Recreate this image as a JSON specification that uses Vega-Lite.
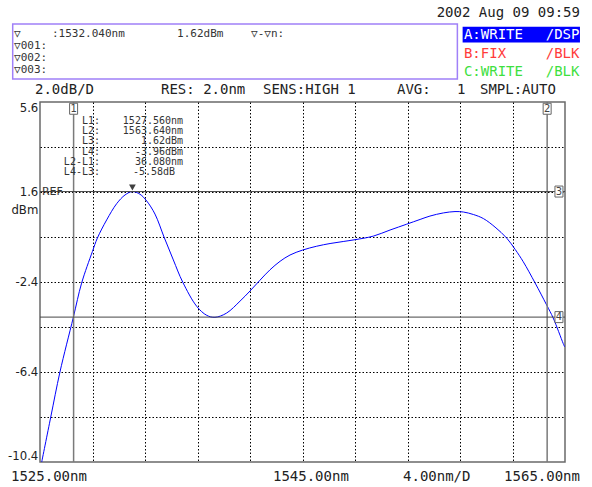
{
  "$schema": "https://vega.github.io/schema/vega-lite/v6.json",
  "width": 525,
  "height": 360,
  "autosize": {"type": "none"},
  "padding": {"left": 40, "top": 102, "right": 27, "bottom": 25},
  "background": "white",
  "config": {"view": {"stroke": "#6a6a6a", "strokeWidth": 1.5}},
  "datasets": {
    "curve": [
      {"x": 1525.13, "y": -10.4},
      {"x": 1525.82, "y": -8.4},
      {"x": 1526.52, "y": -6.4},
      {"x": 1527.54, "y": -3.97},
      {"x": 1528.17, "y": -2.45},
      {"x": 1528.99, "y": -1.05},
      {"x": 1529.37, "y": -0.45},
      {"x": 1530.08, "y": 0.36},
      {"x": 1530.84, "y": 1.08},
      {"x": 1531.48, "y": 1.47},
      {"x": 1532.04, "y": 1.62},
      {"x": 1532.62, "y": 1.5},
      {"x": 1533.13, "y": 1.2},
      {"x": 1533.76, "y": 0.62},
      {"x": 1534.45, "y": -0.4},
      {"x": 1535.16, "y": -1.42},
      {"x": 1535.87, "y": -2.4},
      {"x": 1536.94, "y": -3.48},
      {"x": 1537.7, "y": -3.88},
      {"x": 1538.33, "y": -3.97},
      {"x": 1539.22, "y": -3.78},
      {"x": 1540.24, "y": -3.25},
      {"x": 1541.0, "y": -2.8},
      {"x": 1541.76, "y": -2.32},
      {"x": 1542.52, "y": -1.86},
      {"x": 1543.29, "y": -1.48},
      {"x": 1544.05, "y": -1.2},
      {"x": 1545.01, "y": -0.98},
      {"x": 1546.08, "y": -0.81},
      {"x": 1547.1, "y": -0.69},
      {"x": 1548.1, "y": -0.6},
      {"x": 1549.0, "y": -0.52},
      {"x": 1550.4, "y": -0.36},
      {"x": 1551.67, "y": -0.09},
      {"x": 1552.94, "y": 0.17},
      {"x": 1553.96, "y": 0.38},
      {"x": 1554.71, "y": 0.53},
      {"x": 1555.73, "y": 0.67},
      {"x": 1556.62, "y": 0.73},
      {"x": 1557.26, "y": 0.71},
      {"x": 1558.02, "y": 0.6},
      {"x": 1558.78, "y": 0.42},
      {"x": 1559.67, "y": 0.04},
      {"x": 1560.56, "y": -0.45},
      {"x": 1561.2, "y": -0.95},
      {"x": 1561.82, "y": -1.5},
      {"x": 1562.71, "y": -2.43},
      {"x": 1563.6, "y": -3.42},
      {"x": 1564.1, "y": -4.0},
      {"x": 1564.86, "y": -5.13},
      {"x": 1564.97, "y": -5.28}
    ],
    "vlines": [{"x": 1527.56}, {"x": 1563.64}],
    "hlines": [{"y": 1.62}, {"y": -3.96}],
    "markerBoxes": [
      {"x": 1527.56, "y": 5.3, "t": "1"},
      {"x": 1563.64, "y": 5.3, "t": "2"},
      {"x": 1564.54, "y": 1.62, "t": "3"},
      {"x": 1564.54, "y": -3.96, "t": "4"}
    ],
    "peak": [{"x": 1532.04, "y": 1.8}],
    "frameRect": [{"x": 1522.92, "x2": 1556.8, "y": 9.07, "y2": 6.62}],
    "blueRect": [{"x": 1557.2, "x2": 1566.14, "y": 8.95, "y2": 8.24}],
    "hdrLeft": [
      {"x": 1524.62, "y": 6.13, "t": "2.0dB/D"},
      {"x": 1534.22, "y": 6.13, "t": "RES: 2.0nm"},
      {"x": 1541.99, "y": 6.13, "t": "SENS:HIGH 1"},
      {"x": 1552.2, "y": 6.13, "t": "AVG:"},
      {"x": 1556.77, "y": 6.13, "t": "1"},
      {"x": 1558.52, "y": 6.13, "t": "SMPL:AUTO"},
      {"x": 1522.79, "y": -11.07, "t": "1525.00nm"},
      {"x": 1542.75, "y": -11.07, "t": "1545.00nm"},
      {"x": 1552.66, "y": -11.07, "t": "4.00nm/D"}
    ],
    "hdrRight": [
      {"x": 1566.14, "y": 9.556, "t": "2002 Aug 09 09:59"},
      {"x": 1566.14, "y": -11.07, "t": "1565.00nm"}
    ],
    "boxText": [
      {"x": 1523.02, "y": 8.63, "t": "▽"},
      {"x": 1525.91, "y": 8.63, "t": ":1532.040nm"},
      {"x": 1535.44, "y": 8.63, "t": "1.62dBm"},
      {"x": 1541.08, "y": 8.63, "t": "▽-▽n:"},
      {"x": 1523.02, "y": 8.1, "t": "▽001:"},
      {"x": 1523.02, "y": 7.57, "t": "▽002:"},
      {"x": 1523.02, "y": 7.04, "t": "▽003:"}
    ],
    "lText": [
      {"x": 1529.57, "y": 4.77, "t": "L1:"},
      {"x": 1529.57, "y": 4.31, "t": "L2:"},
      {"x": 1529.57, "y": 3.85, "t": "L3:"},
      {"x": 1529.57, "y": 3.39, "t": "L4:"},
      {"x": 1529.57, "y": 2.93, "t": "L2-L1:"},
      {"x": 1529.57, "y": 2.49, "t": "L4-L3:"},
      {"x": 1535.9, "y": 4.77, "t": "1527.560nm"},
      {"x": 1535.9, "y": 4.31, "t": "1563.640nm"},
      {"x": 1535.9, "y": 3.85, "t": "1.62dBm"},
      {"x": 1535.9, "y": 3.39, "t": "-3.96dBm"},
      {"x": 1535.9, "y": 2.93, "t": "36.080nm"},
      {"x": 1535.29, "y": 2.49, "t": "-5.58dB"}
    ],
    "yLabels": [
      {"x": 1524.87, "y": 5.33, "t": "5.6"},
      {"x": 1524.87, "y": 1.6, "t": "1.6"},
      {"x": 1524.87, "y": 0.8, "t": "dBm"},
      {"x": 1524.87, "y": -2.4, "t": "-2.4"},
      {"x": 1524.87, "y": -6.4, "t": "-6.4"},
      {"x": 1524.87, "y": -10.13, "t": "-10.4"}
    ],
    "refText": [{"x": 1525.15, "y": 1.6, "t": "REF"}],
    "traces": [
      {"x": 1557.3, "y": 8.58, "t": "A:WRITE", "trace": "A", "part": "name"},
      {"x": 1566.1, "y": 8.58, "t": "/DSP", "trace": "A", "part": "mode"},
      {"x": 1557.3, "y": 7.73, "t": "B:FIX", "trace": "B", "part": "name"},
      {"x": 1566.1, "y": 7.73, "t": "/BLK", "trace": "B", "part": "mode"},
      {"x": 1557.3, "y": 6.93, "t": "C:WRITE", "trace": "C", "part": "name"},
      {"x": 1566.1, "y": 6.93, "t": "/BLK", "trace": "C", "part": "mode"}
    ]
  },
  "layer": [
    {
      "data": {"name": "curve"},
      "mark": {"type": "line", "color": "#0000ff", "strokeWidth": 1, "interpolate": "catmull-rom"},
      "encoding": {
        "x": {"field": "x", "type": "quantitative",
          "scale": {"domain": [1525, 1565], "nice": false, "zero": false},
          "axis": {"title": null, "values": [1529, 1533, 1537, 1541, 1545, 1549, 1553, 1557, 1561],
            "grid": true, "gridColor": "#000000", "gridDash": [1.5, 2], "gridWidth": 1, "gridOpacity": 1,
            "labels": false, "ticks": false, "domain": false}},
        "y": {"field": "y", "type": "quantitative",
          "scale": {"domain": [-10.4, 5.6], "nice": false, "zero": false},
          "axis": {"title": null, "values": [3.6, 1.6, -0.4, -2.4, -4.4, -6.4, -8.4],
            "grid": true, "gridColor": "#000000", "gridDash": [1.5, 2], "gridWidth": 1, "gridOpacity": 1,
            "labels": false, "ticks": false, "domain": false}}
      }
    },
    {
      "data": {"name": "vlines"},
      "mark": {"type": "rule", "color": "#7a7a7a", "strokeWidth": 1.5},
      "encoding": {"x": {"field": "x", "type": "quantitative"}}
    },
    {
      "data": {"name": "hlines"},
      "mark": {"type": "rule", "color": "#454545", "strokeWidth": 1},
      "encoding": {"y": {"field": "y", "type": "quantitative"}}
    },
    {
      "data": {"name": "frameRect"},
      "mark": {"type": "rect", "fill": null, "stroke": "#a080f8", "strokeWidth": 1.5},
      "encoding": {
        "x": {"field": "x", "type": "quantitative"}, "x2": {"field": "x2"},
        "y": {"field": "y", "type": "quantitative"}, "y2": {"field": "y2"}
      }
    },
    {
      "data": {"name": "blueRect"},
      "mark": {"type": "rect", "fill": "#0000ff", "stroke": null},
      "encoding": {
        "x": {"field": "x", "type": "quantitative"}, "x2": {"field": "x2"},
        "y": {"field": "y", "type": "quantitative"}, "y2": {"field": "y2"}
      }
    },
    {
      "data": {"name": "markerBoxes"},
      "mark": {"type": "point", "shape": "M-0.4,-0.55L0.4,-0.55L0.4,0.55L-0.4,0.55Z", "size": 400, "filled": true, "fill": "white", "stroke": "#666666", "strokeWidth": 1, "opacity": 1},
      "encoding": {"x": {"field": "x", "type": "quantitative"}, "y": {"field": "y", "type": "quantitative"}}
    },
    {
      "data": {"name": "markerBoxes"},
      "mark": {"type": "text", "font": "DejaVu Sans", "fontSize": 10, "color": "#444444", "align": "center", "baseline": "middle"},
      "encoding": {"x": {"field": "x", "type": "quantitative"}, "y": {"field": "y", "type": "quantitative"}, "text": {"field": "t"}}
    },
    {
      "data": {"name": "peak"},
      "mark": {"type": "point", "shape": "triangle-down", "size": 45, "filled": true, "color": "#404040", "opacity": 1},
      "encoding": {"x": {"field": "x", "type": "quantitative"}, "y": {"field": "y", "type": "quantitative"}}
    },
    {
      "data": {"name": "hdrLeft"},
      "mark": {"type": "text", "font": "DejaVu Sans Mono", "fontSize": 14, "color": "#222222", "align": "left", "baseline": "middle"},
      "encoding": {"x": {"field": "x", "type": "quantitative"}, "y": {"field": "y", "type": "quantitative"}, "text": {"field": "t"}}
    },
    {
      "data": {"name": "hdrRight"},
      "mark": {"type": "text", "font": "DejaVu Sans Mono", "fontSize": 14, "color": "#222222", "align": "right", "baseline": "middle"},
      "encoding": {"x": {"field": "x", "type": "quantitative"}, "y": {"field": "y", "type": "quantitative"}, "text": {"field": "t"}}
    },
    {
      "data": {"name": "boxText"},
      "mark": {"type": "text", "font": "DejaVu Sans Mono", "fontSize": 11, "color": "#333333", "align": "left", "baseline": "middle"},
      "encoding": {"x": {"field": "x", "type": "quantitative"}, "y": {"field": "y", "type": "quantitative"}, "text": {"field": "t"}}
    },
    {
      "data": {"name": "lText"},
      "mark": {"type": "text", "font": "DejaVu Sans Mono", "fontSize": 10, "color": "#333333", "align": "right", "baseline": "middle"},
      "encoding": {"x": {"field": "x", "type": "quantitative"}, "y": {"field": "y", "type": "quantitative"}, "text": {"field": "t"}}
    },
    {
      "data": {"name": "yLabels"},
      "mark": {"type": "text", "font": "Liberation Sans Narrow, DejaVu Sans Condensed, sans-serif", "fontSize": 13, "color": "#222222", "align": "right", "baseline": "middle"},
      "encoding": {"x": {"field": "x", "type": "quantitative"}, "y": {"field": "y", "type": "quantitative"}, "text": {"field": "t"}}
    },
    {
      "data": {"name": "refText"},
      "mark": {"type": "text", "font": "DejaVu Sans", "fontSize": 11, "color": "#333333", "align": "left", "baseline": "middle"},
      "encoding": {"x": {"field": "x", "type": "quantitative"}, "y": {"field": "y", "type": "quantitative"}, "text": {"field": "t"}}
    },
    {
      "data": {"name": "traces"},
      "transform": [{"filter": "datum.trace == 'A' && datum.part == 'name'"}],
      "mark": {"type": "text", "font": "DejaVu Sans Mono", "fontSize": 14, "color": "#ffffff", "align": "left", "baseline": "middle"},
      "encoding": {"x": {"field": "x", "type": "quantitative"}, "y": {"field": "y", "type": "quantitative"}, "text": {"field": "t"}}
    },
    {
      "data": {"name": "traces"},
      "transform": [{"filter": "datum.trace == 'A' && datum.part == 'mode'"}],
      "mark": {"type": "text", "font": "DejaVu Sans Mono", "fontSize": 14, "color": "#ffffff", "align": "right", "baseline": "middle"},
      "encoding": {"x": {"field": "x", "type": "quantitative"}, "y": {"field": "y", "type": "quantitative"}, "text": {"field": "t"}}
    },
    {
      "data": {"name": "traces"},
      "transform": [{"filter": "datum.trace == 'B' && datum.part == 'name'"}],
      "mark": {"type": "text", "font": "DejaVu Sans Mono", "fontSize": 14, "color": "#ff3b3b", "align": "left", "baseline": "middle"},
      "encoding": {"x": {"field": "x", "type": "quantitative"}, "y": {"field": "y", "type": "quantitative"}, "text": {"field": "t"}}
    },
    {
      "data": {"name": "traces"},
      "transform": [{"filter": "datum.trace == 'B' && datum.part == 'mode'"}],
      "mark": {"type": "text", "font": "DejaVu Sans Mono", "fontSize": 14, "color": "#ff3b3b", "align": "right", "baseline": "middle"},
      "encoding": {"x": {"field": "x", "type": "quantitative"}, "y": {"field": "y", "type": "quantitative"}, "text": {"field": "t"}}
    },
    {
      "data": {"name": "traces"},
      "transform": [{"filter": "datum.trace == 'C' && datum.part == 'name'"}],
      "mark": {"type": "text", "font": "DejaVu Sans Mono", "fontSize": 14, "color": "#3ee03e", "align": "left", "baseline": "middle"},
      "encoding": {"x": {"field": "x", "type": "quantitative"}, "y": {"field": "y", "type": "quantitative"}, "text": {"field": "t"}}
    },
    {
      "data": {"name": "traces"},
      "transform": [{"filter": "datum.trace == 'C' && datum.part == 'mode'"}],
      "mark": {"type": "text", "font": "DejaVu Sans Mono", "fontSize": 14, "color": "#3ee03e", "align": "right", "baseline": "middle"},
      "encoding": {"x": {"field": "x", "type": "quantitative"}, "y": {"field": "y", "type": "quantitative"}, "text": {"field": "t"}}
    }
  ]
}
